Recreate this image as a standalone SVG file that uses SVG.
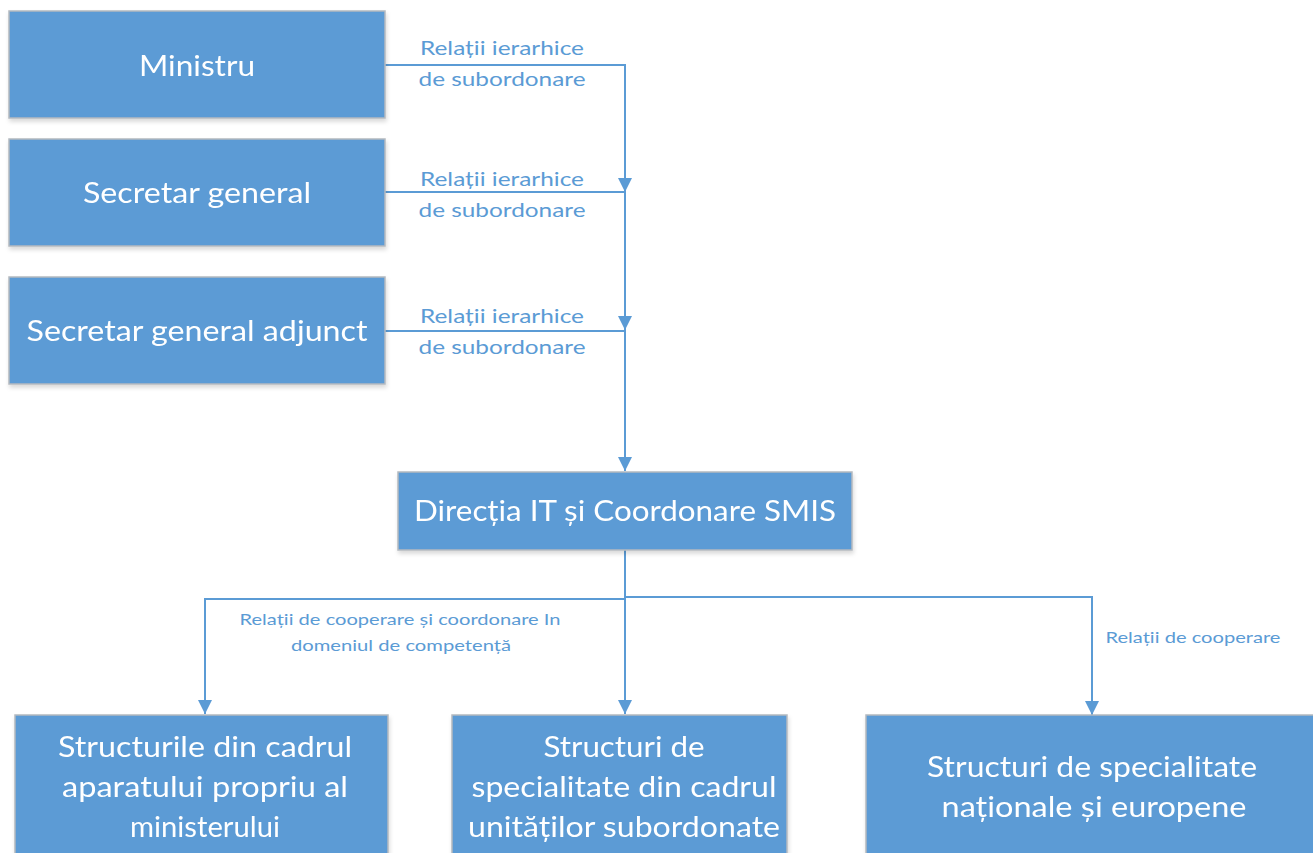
<svg xmlns="http://www.w3.org/2000/svg" width="1313" height="853" viewBox="0 0 1313 853">
<style>
.box{fill:#5b9bd5;stroke:#b4b9bf;stroke-width:1.5}
.bt{font-family:Lato,"Open Sans",sans-serif;fill:#fff;text-anchor:middle}
.lb{font-family:Lato,"Open Sans",sans-serif;fill:#5b9bd5;text-anchor:middle}
.ln{fill:none;stroke:#5b9bd5;stroke-width:2}
</style>
<defs>
<filter id="sh" x="-5%" y="-5%" width="110%" height="120%"><feDropShadow dx="1" dy="3" stdDeviation="2" flood-color="#000" flood-opacity="0.15"/></filter>
<marker id="ar" viewBox="0 0 10 10" refX="10" refY="5" markerWidth="14" markerHeight="14" markerUnits="userSpaceOnUse" orient="auto"><path d="M0,0 L10,5 L0,10 z" fill="#5b9bd5"/></marker>
</defs>
<rect width="1313" height="853" fill="#fff"/>
<g id="connectors">
<path class="ln" d="M385,65 H625 V192" marker-end="url(#ar)"/>
<path class="ln" d="M385,192 H625 V330" marker-end="url(#ar)"/>
<path class="ln" d="M385,331 H625 V471" marker-end="url(#ar)"/>
<path class="ln" d="M625,550 V598"/>
<path class="ln" d="M625,599 H205 V714" marker-end="url(#ar)"/>
<path class="ln" d="M625,598 V714" marker-end="url(#ar)"/>
<path class="ln" d="M626,597 H1092 V715" marker-end="url(#ar)"/>
<text class="lb" font-size="20" x="502" y="55" textLength="164" lengthAdjust="spacingAndGlyphs">Relații ierarhice</text>
<text class="lb" font-size="20" x="502" y="86" textLength="167" lengthAdjust="spacingAndGlyphs">de subordonare</text>
<text class="lb" font-size="20" x="502" y="186" textLength="164" lengthAdjust="spacingAndGlyphs">Relații ierarhice</text>
<text class="lb" font-size="20" x="502" y="217" textLength="167" lengthAdjust="spacingAndGlyphs">de subordonare</text>
<text class="lb" font-size="20" x="502" y="323" textLength="164" lengthAdjust="spacingAndGlyphs">Relații ierarhice</text>
<text class="lb" font-size="20" x="502" y="354" textLength="167" lengthAdjust="spacingAndGlyphs">de subordonare</text>
<text class="lb" font-size="16" x="400" y="625" textLength="321" lengthAdjust="spacingAndGlyphs">Relații de cooperare și coordonare In</text>
<text class="lb" font-size="16" x="401" y="651" textLength="220" lengthAdjust="spacingAndGlyphs">domeniul de competență</text>
<text class="lb" font-size="16" x="1193" y="643" textLength="175" lengthAdjust="spacingAndGlyphs">Relații de cooperare</text>
</g>
<g id="ministru" filter="url(#sh)">
<rect class="box" x="9" y="11" width="376" height="107"/>
<text class="bt" font-size="28" x="197" y="76" textLength="116" lengthAdjust="spacingAndGlyphs">Ministru</text>
</g>
<g id="secretar-general" filter="url(#sh)">
<rect class="box" x="9" y="139" width="376" height="107"/>
<text class="bt" font-size="28" x="197" y="203" textLength="228" lengthAdjust="spacingAndGlyphs">Secretar general</text>
</g>
<g id="secretar-general-adjunct" filter="url(#sh)">
<rect class="box" x="9" y="277" width="376" height="107"/>
<text class="bt" font-size="28" x="197" y="341" textLength="341" lengthAdjust="spacingAndGlyphs">Secretar general adjunct</text>
</g>
<g id="directia" filter="url(#sh)">
<rect class="box" x="398" y="472" width="454" height="78"/>
<text class="bt" font-size="28" x="625" y="521" textLength="422" lengthAdjust="spacingAndGlyphs">Direcția IT și Coordonare SMIS</text>
</g>
<g id="structurile-aparat" filter="url(#sh)">
<rect class="box" x="15" y="715" width="373" height="150"/>
<text class="bt" font-size="29" x="205" y="757" textLength="294" lengthAdjust="spacingAndGlyphs">Structurile din cadrul</text>
<text class="bt" font-size="29" x="205" y="797" textLength="286" lengthAdjust="spacingAndGlyphs">aparatului propriu al</text>
<text class="bt" font-size="29" x="205" y="837" textLength="150" lengthAdjust="spacingAndGlyphs">ministerului</text>
</g>
<g id="structuri-subordonate" filter="url(#sh)">
<rect class="box" x="452" y="715" width="335" height="150"/>
<text class="bt" font-size="29" x="624" y="757" textLength="161" lengthAdjust="spacingAndGlyphs">Structuri de</text>
<text class="bt" font-size="29" x="624" y="797" textLength="305" lengthAdjust="spacingAndGlyphs">specialitate din cadrul</text>
<text class="bt" font-size="29" x="624" y="837" textLength="312" lengthAdjust="spacingAndGlyphs">unităților subordonate</text>
</g>
<g id="structuri-nationale" filter="url(#sh)">
<rect class="box" x="866" y="715" width="460" height="150"/>
<text class="bt" font-size="29" x="1092" y="777" textLength="330" lengthAdjust="spacingAndGlyphs">Structuri de specialitate</text>
<text class="bt" font-size="29" x="1094" y="817" textLength="305" lengthAdjust="spacingAndGlyphs">naționale și europene</text>
</g>
</svg>
